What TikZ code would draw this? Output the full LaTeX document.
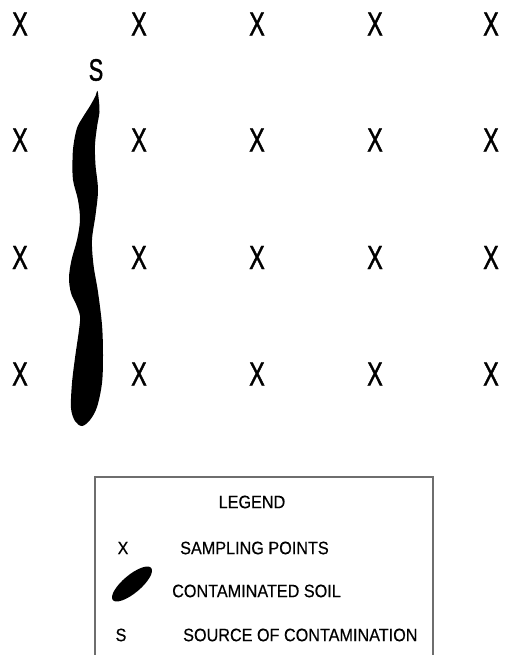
\documentclass[tikz,border=0pt]{standalone}
\usepackage{fontspec}
\setmainfont{Liberation Sans}
\newfontfamily\gridfont{Liberation Sans}[FakeStretch=0.7, FakeBold=1.2]
\newfontfamily\legendfont{Liberation Sans}[FakeStretch=0.9, FakeBold=0.4]
\usepackage{tikz}
\usetikzlibrary{shapes.geometric}
\definecolor{framegray}{HTML}{6E6E6E}
\tikzset{
  gridmark/.style={inner sep=0pt, font=\gridfont\fontsize{33.5}{36}\selectfont},
  srcmark/.style={inner sep=0pt, font=\gridfont\fontsize{31}{34}\selectfont},
  legsym/.style={inner sep=0pt, font=\legendfont\fontsize{18}{20}\selectfont},
  legtxt/.style={legsym, anchor=west},
  soilmark/.style={ellipse, fill=black, inner sep=0pt, minimum width=50pt, minimum height=18pt},
  legframe/.style={draw=framegray, line width=1.4pt},
}

\begin{document}
\begin{tikzpicture}[x=1pt, y=-1pt]
    \useasboundingbox (0,0) rectangle (504,655);

    % sampling grid
    \foreach \r [count=\i] in {24,140,257.5,374} {
      \foreach \c [count=\j] in {20,139,257,375,491} {
        \node[gridmark] (pt-\i-\j) at (\c,\r) {X};
      }
    }

    % contaminated soil plume and its source
    \node[srcmark] (src) at (96,70) {S};
    \fill[black] plot[smooth cycle, tension=0.55] coordinates {
      (97.5,91) (99,102) (99.5,112) (97,127) (95,145) (95.5,165) (98,190)
      (95.5,215) (92,240) (93.5,265) (98,292) (102,325) (103,355) (102,383)
      (97,407) (90,420) (82,426) (75,421) (71,408) (72,383) (75,358) (79,330)
      (80,316) (76,304) (71,293) (69,278) (71.5,260) (77,240) (80,220) (78,200)
      (73,180) (72.5,160) (73.5,145) (77,128) (83,117) (90,106) (95.5,96)};

    % legend
    \draw[legframe] (95,656) -- (95,477) -- (433,477) -- (433,656);
    \node[legsym] (legtitle) at (252,502) {LEGEND};
    \node[legsym] (legx) at (123,548) {X};
    \node[legtxt] (legxtxt) at (180,548) {SAMPLING POINTS};
    \node[soilmark, rotate=40] (legsoil) at (132,584) {};
    \node[legtxt] (legsoiltxt) at (172,591) {CONTAMINATED SOIL};
    \node[legsym] (legs) at (121,635) {S};
    \node[legtxt] (legstxt) at (183,635) {SOURCE OF CONTAMINATION};
  \end{tikzpicture}
\end{document}
